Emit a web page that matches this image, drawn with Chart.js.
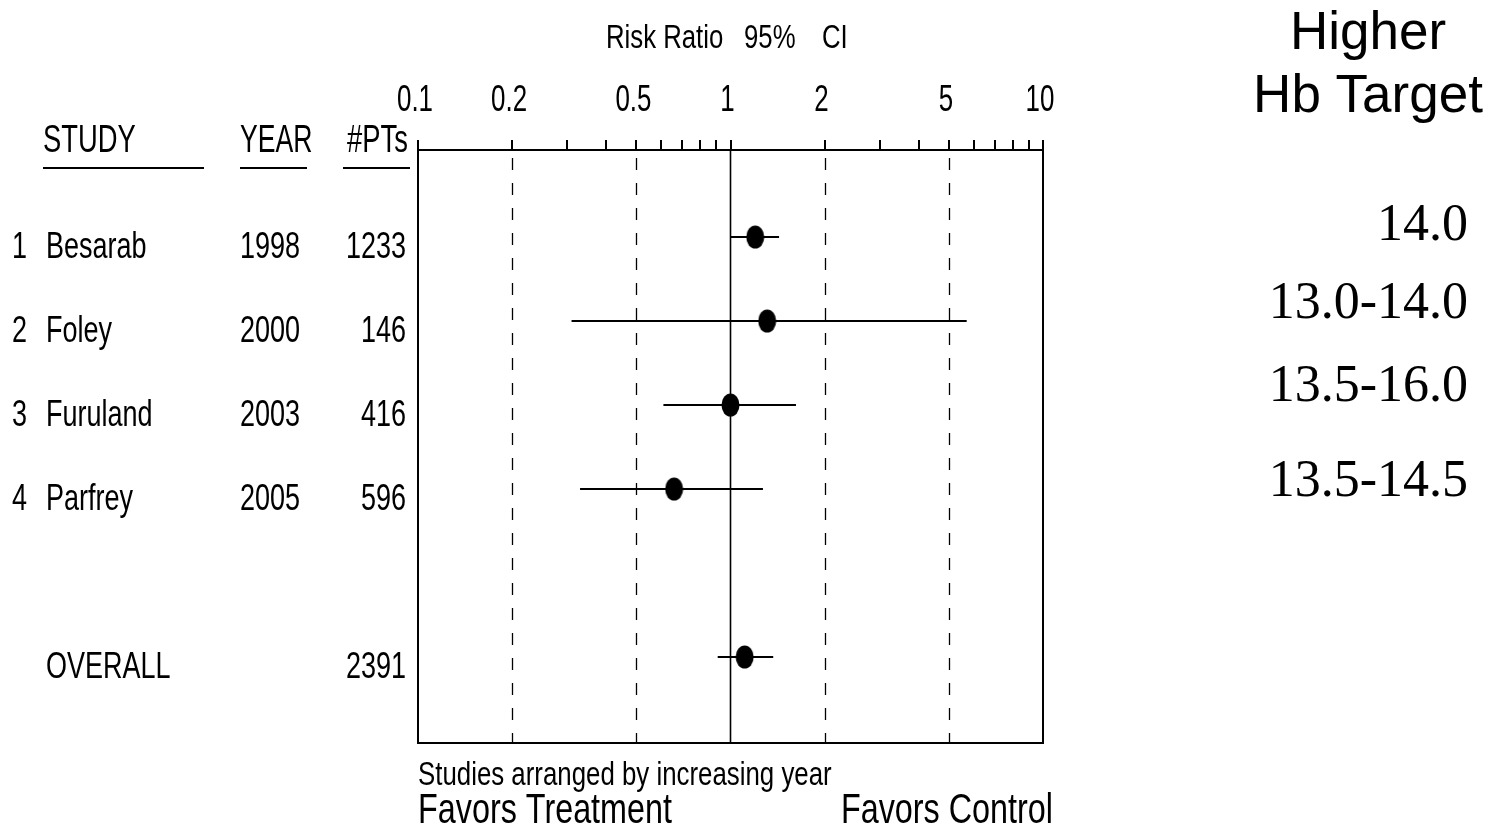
<!DOCTYPE html>
<html>
<head>
<meta charset="utf-8">
<title>Risk Ratio forest plot</title>
<script src="https://cdn.jsdelivr.net/npm/chart.js@4"></script>
<style>
  html, body { margin: 0; padding: 0; background: #fff; }
  canvas { display: block; }
</style>
</head>
<body>
<canvas id="forest" width="1493" height="829"></canvas>
<script>
// data
const studyNums = ["1", "2", "3", "4", ""];
const studies = ["Besarab", "Foley", "Furuland", "Parfrey", "OVERALL"];
const years = ["1998", "2000", "2003", "2005", ""];
const patients = ["1233", "146", "416", "596", "2391"];
const riskRatio = [1.20, 1.31, 1.00, 0.66, 1.11];
const ciLow = [1.00, 0.31, 0.61, 0.33, 0.91];
const ciHigh = [1.43, 5.70, 1.62, 1.27, 1.37];
const rowIndex = [0, 1, 2, 3, 5];
const hbTargets = ["14.0", "13.0-14.0", "13.5-16.0", "13.5-14.5"];
const tickVals = [0.1, 0.2, 0.3, 0.4, 0.5, 0.6, 0.7, 0.8, 0.9, 1, 2, 3, 4, 5, 6, 7, 8, 9, 10];
const labelVals = [0.1, 0.2, 0.5, 1, 2, 5, 10];
const tickLabels = ["0.1", "0.2", "0.5", "1", "2", "5", "10"];
const dashedRefs = [0.2, 0.5, 2, 5];
const nullLine = 1;

const SANS = '"Liberation Sans", Arial, sans-serif';
const SERIF = '"Liberation Serif", "Times New Roman", serif';

// oval marker like the original
function makeOval(w, h) {
  const c = document.createElement("canvas");
  c.width = w; c.height = h;
  const g = c.getContext("2d");
  g.fillStyle = "#000";
  g.beginPath();
  g.ellipse(w / 2, h / 2, w / 2 - 0.5, h / 2 - 0.5, 0, 0, Math.PI * 2);
  g.fill();
  return c;
}
const oval = makeOval(19, 24);

// narrow, tall text like the old plotting program
function txt(ctx, s, x, y, size, sx, align, family) {
  ctx.save();
  ctx.font = size + "px " + (family || SANS);
  ctx.fillStyle = "#000";
  ctx.textAlign = align || "left";
  ctx.textBaseline = "alphabetic";
  ctx.translate(x, y);
  ctx.scale(sx, 1);
  ctx.fillText(s, 0, 0);
  ctx.restore();
}

const ciSets = studies.map((s, i) => ({
  type: "line",
  label: s + " CI",
  data: [{ x: ciLow[i], y: rowIndex[i] }, { x: ciHigh[i], y: rowIndex[i] }],
  borderColor: "#000",
  borderWidth: 1.8,
  pointRadius: 0,
  order: 2
}));

const pointSet = {
  type: "scatter",
  label: "RR",
  data: studies.map((s, i) => ({ x: riskRatio[i], y: rowIndex[i] })),
  pointStyle: oval,
  pointRadius: 10,
  order: 1
};

const decor = {
  id: "decor",
  beforeDatasetsDraw(chart) {
    const { ctx, chartArea: a, scales: { x } } = chart;
    ctx.save();
    ctx.strokeStyle = "#000";
    ctx.lineWidth = 1.3;
    ctx.setLineDash([12, 13]);
    dashedRefs.forEach(v => {
      const px = Math.round(x.getPixelForValue(v)) + 0.5;
      ctx.beginPath(); ctx.moveTo(px, a.top + 8); ctx.lineTo(px, a.bottom); ctx.stroke();
    });
    ctx.setLineDash([]);
    ctx.lineWidth = 1.6;
    const p1 = x.getPixelForValue(nullLine);
    ctx.beginPath(); ctx.moveTo(p1, a.top); ctx.lineTo(p1, a.bottom); ctx.stroke();
    ctx.restore();
  },
  afterDraw(chart) {
    const { ctx, chartArea: a, scales: { x, y } } = chart;
    ctx.save();
    ctx.strokeStyle = "#000";
    ctx.lineWidth = 2;
    ctx.strokeRect(a.left, a.top, a.right - a.left, a.bottom - a.top);

    // axis labels above the box
    labelVals.forEach((v, i) => txt(ctx, tickLabels[i], x.getPixelForValue(v) - 3, 111, 36, 0.72, "center"));
    txt(ctx, "Risk Ratio", 606, 48, 33, 0.78, "left");
    txt(ctx, "95%", 744, 48, 33, 0.78, "left");
    txt(ctx, "CI", 822, 48, 33, 0.78, "left");

    // column headers
    txt(ctx, "STUDY", 43, 152, 38, 0.72, "left");
    txt(ctx, "YEAR", 240, 152, 38, 0.7, "left");
    txt(ctx, "#PTs", 347, 152, 38, 0.72, "left");
    ctx.lineWidth = 2;
    [[43, 204], [240, 307], [343, 410]].forEach(([l, r]) => {
      ctx.beginPath(); ctx.moveTo(l, 168); ctx.lineTo(r, 168); ctx.stroke();
    });

    // study rows
    studies.forEach((s, i) => {
      const py = y.getPixelForValue(rowIndex[i]) + 21;
      txt(ctx, studyNums[i], 12, py, 36, 0.75, "left");
      txt(ctx, s, 46, py, 36, 0.75, "left");
      txt(ctx, years[i], 240, py, 36, 0.75, "left");
      txt(ctx, patients[i], 406, py, 36, 0.75, "right");
    });

    // footer
    txt(ctx, "Studies arranged by increasing year", 418, 785, 34, 0.76, "left");
    txt(ctx, "Favors Treatment", 418, 823, 42, 0.77, "left");
    txt(ctx, "Favors Control", 1053, 823, 42, 0.77, "right");

    // right-hand annotation
    txt(ctx, "Higher", 1368, 49, 53, 1, "center");
    txt(ctx, "Hb Target", 1368, 112, 53, 1, "center");
    const hbY = [240, 318, 401, 496];
    hbTargets.forEach((t, i) => txt(ctx, t, 1468, hbY[i], 52, 1, "right", SERIF));
    ctx.restore();
  }
};

new Chart(document.getElementById("forest"), {
  data: { datasets: [...ciSets, pointSet] },
  options: {
    responsive: false,
    animation: false,
    devicePixelRatio: 1,
    layout: { padding: { left: 418, right: 450, top: 140, bottom: 86 } },
    plugins: { legend: { display: false }, tooltip: { enabled: false } },
    scales: {
      x: {
        type: "logarithmic",
        position: "top",
        min: 0.1,
        max: 10,
        afterBuildTicks: s => { s.ticks = tickVals.map(v => ({ value: v })); },
        afterFit: s => { s.height = 10; },
        ticks: { display: false },
        grid: { drawOnChartArea: false, drawTicks: true, tickLength: 10, color: "#000", lineWidth: 2 },
        border: { display: true, color: "#000", width: 2 }
      },
      y: {
        type: "linear",
        min: -1.036,
        max: 6.024,
        reverse: true,
        display: false
      }
    }
  },
  plugins: [decor]
});
</script>
</body>
</html>
